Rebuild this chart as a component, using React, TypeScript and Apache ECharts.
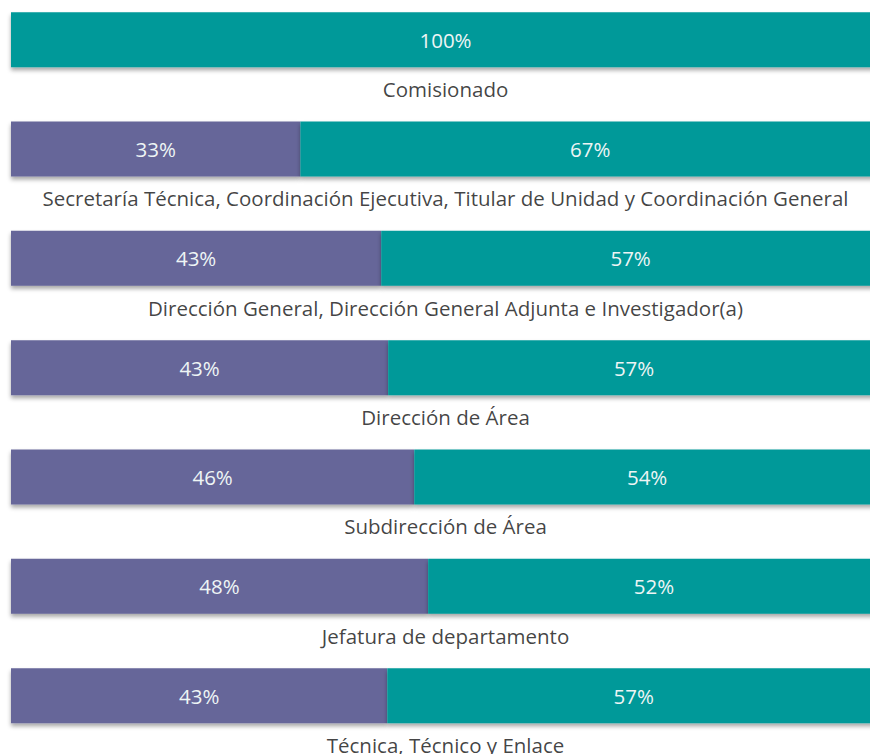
import React, { useEffect, useRef } from "react";
import * as echarts from "echarts";

const categories = [
  "Comisionado",
  "Secretaría Técnica, Coordinación Ejecutiva, Titular de Unidad y Coordinación General",
  "Dirección General, Dirección General Adjunta e Investigador(a)",
  "Dirección de Área",
  "Subdirección de Área",
  "Jefatura de departamento",
  "Técnica, Técnico y Enlace",
];
const purpleValues = [0, 33.3, 42.6, 43.4, 46.4, 48.0, 43.3];
const tealValues = [100, 66.7, 57.4, 56.6, 53.6, 52.0, 56.7];
const labelAnchor = [50, 50, 50, 50, 50, 50, 50];

const PURPLE = "#666699";
const TEAL = "#009999";
const FONT = "'Open Sans', sans-serif";

export default function App() {
  const ref = useRef<HTMLDivElement>(null);
  useEffect(() => {
    if (!ref.current) return;
    const chart = echarts.init(ref.current, null, { renderer: "svg" });
    const barLabel = {
      show: true,
      position: "inside" as const,
      color: "#eef5f5",
      fontFamily: FONT,
      fontSize: 20.5,
      formatter: (p: any) => (p.value > 0 ? Math.round(p.value) + "%" : ""),
    };
    const shadow = {
      shadowColor: "rgba(0,0,0,0.35)",
      shadowBlur: 4,
      shadowOffsetY: 3,
    };
    chart.setOption({
      animation: false,
      grid: { left: 11, width: 869, top: 0, height: 765.3, containLabel: false },
      xAxis: { type: "value", min: 0, max: 100, show: false },
      yAxis: {
        type: "category",
        data: categories,
        inverse: true,
        show: false,
      },
      series: [
        {
          type: "bar",
          stack: "total",
          data: purpleValues,
          barWidth: 55,
          itemStyle: { color: PURPLE, ...shadow },
          label: barLabel,
        },
        {
          type: "bar",
          stack: "total",
          data: tealValues,
          barWidth: 55,
          itemStyle: { color: TEAL, ...shadow },
          label: barLabel,
        },
        {
          type: "scatter",
          data: labelAnchor.map((v, i) => [v, i]),
          symbolSize: 0,
          silent: true,
          label: {
            show: true,
            position: "inside",
            offset: [0, 49.5],
            color: "#111111",
            fontFamily: FONT,
            fontSize: 20.5,
            formatter: (p: any) => categories[p.dataIndex],
          },
        },
      ],
    });
    return () => chart.dispose();
  }, []);
  return (
    <div style={{ position: "absolute", left: 0, top: 0, width: 870, height: 754, overflow: "hidden", background: "#fff" }}>
      <div
        ref={ref}
        style={{ position: "absolute", left: 0, top: -15, width: 890, height: 769 }}
      />
    </div>
  );
}
